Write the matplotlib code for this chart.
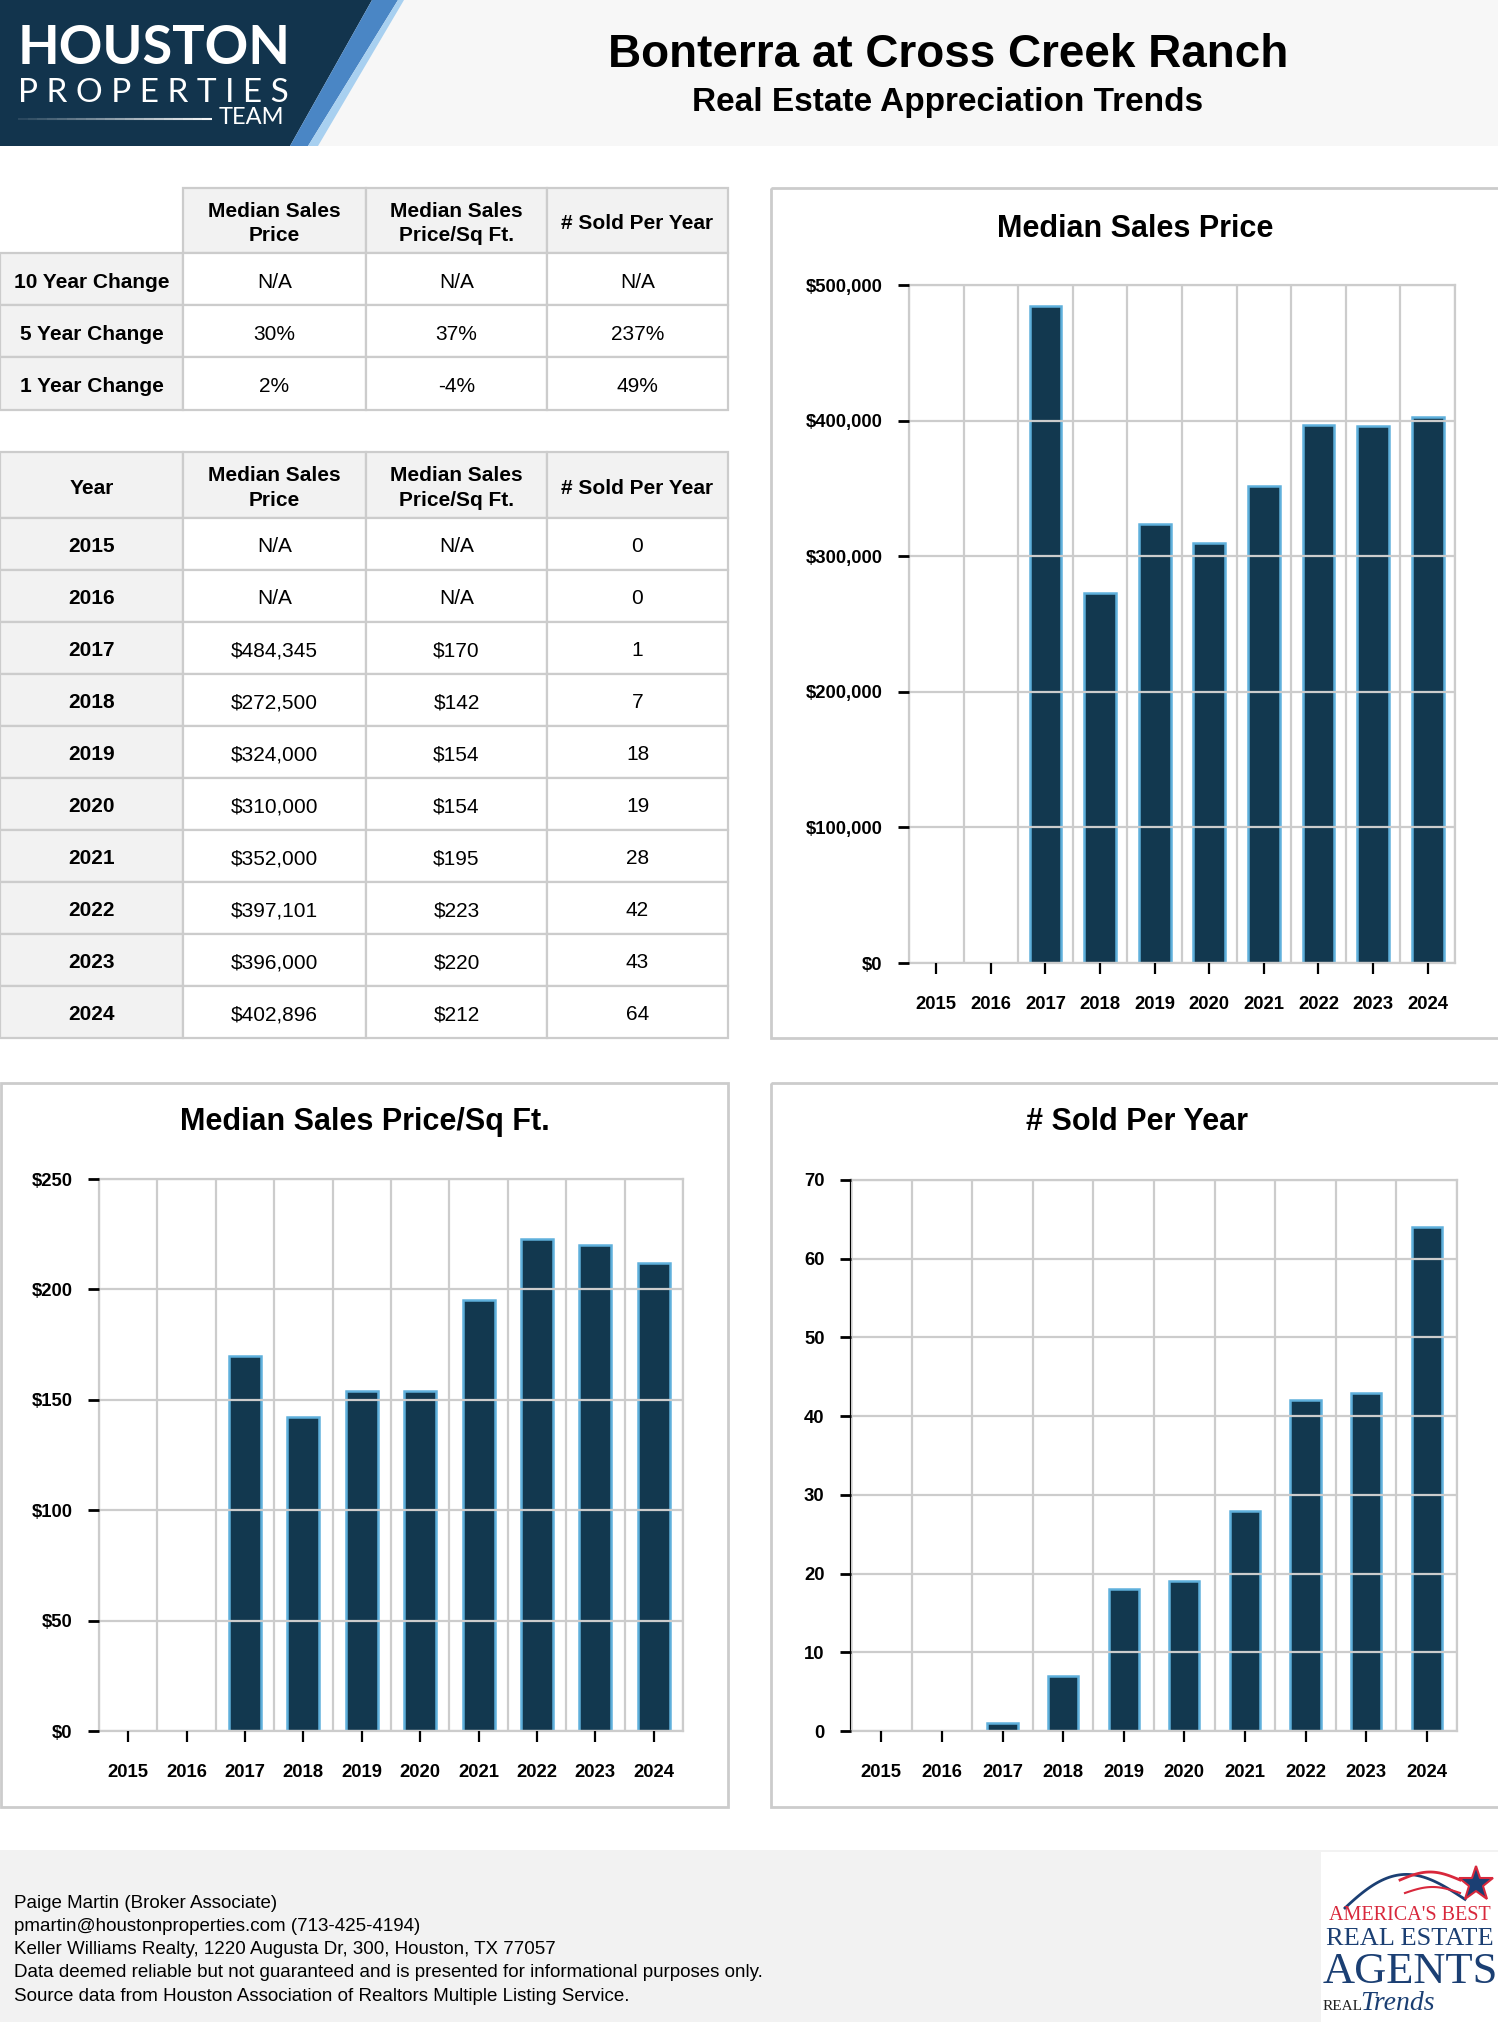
import numpy as np
import matplotlib
matplotlib.use("Agg")
from matplotlib import pyplot as plt
from matplotlib.patches import Rectangle, Polygon
from matplotlib.ticker import MultipleLocator, FuncFormatter

years = ["2015", "2016", "2017", "2018", "2019", "2020", "2021", "2022", "2023", "2024"]
median_price = [np.nan, np.nan, 484345, 272500, 324000, 310000, 352000, 397101, 396000, 402896]
price_per_sqft = [np.nan, np.nan, 170, 142, 154, 154, 195, 223, 220, 212]
sold_per_year = [0, 0, 1, 7, 18, 19, 28, 42, 43, 64]

change_rows = ["10 Year Change", "5 Year Change", "1 Year Change"]
change_price = ["N/A", "30%", "2%"]
change_sqft = ["N/A", "37%", "-4%"]
change_sold = ["N/A", "237%", "49%"]
column_heads = ["Median Sales\nPrice", "Median Sales\nPrice/Sq Ft.", "# Sold Per Year"]

footer_lines = [
    "Paige Martin (Broker Associate)",
    "pmartin@houstonproperties.com (713-425-4194)",
    "Keller Williams Realty, 1220 Augusta Dr, 300, Houston, TX 77057",
    "Data deemed reliable but not guaranteed and is presented for informational purposes only.",
    "Source data from Houston Association of Realtors Multiple Listing Service.",
]

FONT = ["Liberation Sans", "DejaVu Sans"]
SERIF = ["Liberation Serif", "DejaVu Serif"]
NAVY = "#12384f"
EDGE = "#5fb0dc"
GRID = "#cccccc"
CELL_GRAY = "#f2f2f2"

W, H = 1498, 2022
fig = plt.figure(figsize=(W / 100, H / 100), dpi=100)

# background layer in pixel coordinates
bg = fig.add_axes([0, 0, 1, 1])
bg.set_xlim(0, W)
bg.set_ylim(H, 0)
bg.axis("off")

# header band and logo
bg.add_patch(Rectangle((0, 0), W, 146, color="#f7f7f7", lw=0))
bg.add_patch(Polygon([(0, 0), (372, 0), (290, 146), (0, 146)], color="#12344d", lw=0))
bg.add_patch(Polygon([(372, 0), (398, 0), (308, 146), (290, 146)], color="#4a86c5", lw=0))
bg.add_patch(Polygon([(398, 0), (404, 0), (318, 146), (308, 146)], color="#a8d0f0", lw=0))
bg.text(18, 48, "HOUSTON", color="white", fontsize=39, weight="bold",
        family=["Lato", "DejaVu Sans"], ha="left", va="center")
bg.text(18, 93, "P R O P E R T I E S", color="white", fontsize=24,
        family=["Lato", "DejaVu Sans"], ha="left", va="center")
bg.text(284, 118, "TEAM", color="white", fontsize=17,
        family=["Lato", "DejaVu Sans"], ha="right", va="center")
for i in range(20):
    bg.plot([18 + i * 9.7, 18 + (i + 1) * 9.7], [119, 119], color="white",
            lw=1.5, alpha=0.1 + 0.045 * i, solid_capstyle="butt")

bg.text(948, 55, "Bonterra at Cross Creek Ranch", fontsize=33, weight="bold",
        family=FONT, ha="center", va="center")
bg.text(948, 102, "Real Estate Appreciation Trends", fontsize=24, weight="bold",
        family=FONT, ha="center", va="center")


def draw_table(x_edges, y_edges, cells, skip_corner):
    for r in range(len(y_edges) - 1):
        for c in range(len(x_edges) - 1):
            if skip_corner and r == 0 and c == 0:
                continue
            x0, x1 = x_edges[c], x_edges[c + 1]
            y0, y1 = y_edges[r], y_edges[r + 1]
            gray = r == 0 or c == 0
            bg.add_patch(Rectangle((x0, y0), x1 - x0, y1 - y0,
                                   facecolor=CELL_GRAY if gray else "white",
                                   edgecolor=GRID, lw=1.6))
            bg.text((x0 + x1) / 2, (y0 + y1) / 2 + 3, cells[r][c], fontsize=15,
                    weight="bold" if gray else "normal", family=FONT,
                    ha="center", va="center", linespacing=1.35)


col_edges = [0, 183, 366, 547, 728]

cells1 = [[""] + column_heads]
for i in range(len(change_rows)):
    cells1.append([change_rows[i], change_price[i], change_sqft[i], change_sold[i]])
draw_table(col_edges, [188, 253, 305, 357, 410], cells1, True)


def money(v):
    return "N/A" if np.isnan(v) else f"${v:,.0f}"


cells2 = [["Year"] + column_heads]
for i in range(len(years)):
    cells2.append([years[i], money(median_price[i]), money(price_per_sqft[i]),
                   str(sold_per_year[i])])
row_edges = [452, 518] + [518 + 52 * (k + 1) for k in range(len(years))]
draw_table(col_edges, row_edges, cells2, False)

# chart frames and titles
bg.add_patch(Rectangle((771, 188), 760, 850, fill=False, edgecolor=GRID, lw=2))
bg.add_patch(Rectangle((1, 1083), 727, 724, fill=False, edgecolor=GRID, lw=2))
bg.add_patch(Rectangle((771, 1083), 760, 724, fill=False, edgecolor=GRID, lw=2))
bg.text(1135, 229, "Median Sales Price", fontsize=22, weight="bold", family=FONT,
        ha="center", va="center")
bg.text(365, 1122, "Median Sales Price/Sq Ft.", fontsize=22, weight="bold", family=FONT,
        ha="center", va="center")
bg.text(1137, 1122, "# Sold Per Year", fontsize=22, weight="bold", family=FONT,
        ha="center", va="center")


def bar_chart(box, values, ymax, step, fmt, bar_width, left_color):
    x0, y0, x1, y1 = box
    ax = fig.add_axes([x0 / W, 1 - y1 / H, (x1 - x0) / W, (y1 - y0) / H])
    vals = np.array(values, dtype=float)
    xs = np.arange(len(years))
    keep = ~np.isnan(vals) & (vals > 0)
    ax.bar(xs[keep], vals[keep], width=bar_width, color=NAVY, edgecolor=EDGE,
           linewidth=1.8, zorder=1)
    ax.set_xlim(-0.5, len(years) - 0.5)
    ax.set_ylim(0, ymax)
    ax.set_xticks(xs)
    ax.set_xticklabels(years)
    ax.set_xticks(np.arange(-0.5, len(years), 1), minor=True)
    ax.yaxis.set_major_locator(MultipleLocator(step))
    ax.yaxis.set_major_formatter(FuncFormatter(fmt))
    ax.set_axisbelow(False)
    ax.grid(which="minor", axis="x", color=GRID, lw=1.6)
    ax.grid(which="major", axis="y", color=GRID, lw=1.6)
    ax.tick_params(axis="x", which="minor", length=0)
    ax.tick_params(axis="x", which="major", length=8, width=1.6, color="black",
                   pad=16, labelsize=13.3)
    ax.tick_params(axis="y", which="major", length=8, width=2, color="black",
                   pad=11, labelsize=13.3)
    for lbl in ax.get_xticklabels() + ax.get_yticklabels():
        lbl.set_fontweight("bold")
        lbl.set_family(FONT)
    for side in ["top", "right", "bottom"]:
        ax.spines[side].set_color(GRID)
        ax.spines[side].set_linewidth(1.6)
    ax.spines["left"].set_color(left_color)
    ax.spines["left"].set_linewidth(1.6)
    ax.set_facecolor("white")
    return ax


bar_chart((909, 285, 1455, 963), median_price, 500000, 100000,
          lambda v, p: f"${v:,.0f}", 0.58, GRID)
bar_chart((99, 1179, 683, 1731), price_per_sqft, 250, 50,
          lambda v, p: f"${v:,.0f}", 0.55, GRID)
bar_chart((851, 1180, 1457, 1731), sold_per_year, 70, 10,
          lambda v, p: f"{v:.0f}", 0.5, "black")

# footer
bg.add_patch(Rectangle((0, 1850), W, H - 1850, color="#f2f2f2", lw=0))
for i, line in enumerate(footer_lines):
    bg.text(14, 1903 + i * 23.3, line, fontsize=13.5, family=FONT, ha="left", va="center")

# award badge
bg.add_patch(Rectangle((1321, 1852), 180, 172, color="white", lw=0))
t = np.linspace(0, 1, 50)
bg.plot(1345 + 120 * t, 1908 - 40 * np.sin(np.pi * t * 0.9) * (1 - 0.3 * t), color="#1b3f73", lw=2)
bg.plot(1400 + 60 * t, 1880 - 8 * np.sin(np.pi * t), color="#d8283c", lw=2)
bg.plot(1405 + 55 * t, 1893 - 6 * np.sin(np.pi * t), color="#d8283c", lw=1.5)
bg.plot([1476], [1884], marker="*", markersize=26, color="#1b3f73",
        markeredgecolor="#d8283c", markeredgewidth=1.5)
bg.text(1410, 1915, "AMERICA'S BEST", fontsize=14.5, color="#d8283c",
        family=SERIF, ha="center", va="center")
bg.text(1410, 1939, "REAL ESTATE", fontsize=19, color="#1b3f73",
        family=SERIF, ha="center", va="center")
bg.text(1410, 1972, "AGENTS", fontsize=32, color="#1b3f73",
        family=SERIF, ha="center", va="center")
bg.text(1323, 2006, "REAL", fontsize=11, color="#222222",
        family=SERIF, ha="left", va="center")
bg.text(1360, 2004, "Trends", fontsize=20, color="#1b3f73", style="italic",
        family=SERIF, ha="left", va="center")

fig.savefig("out.png", dpi=100)
